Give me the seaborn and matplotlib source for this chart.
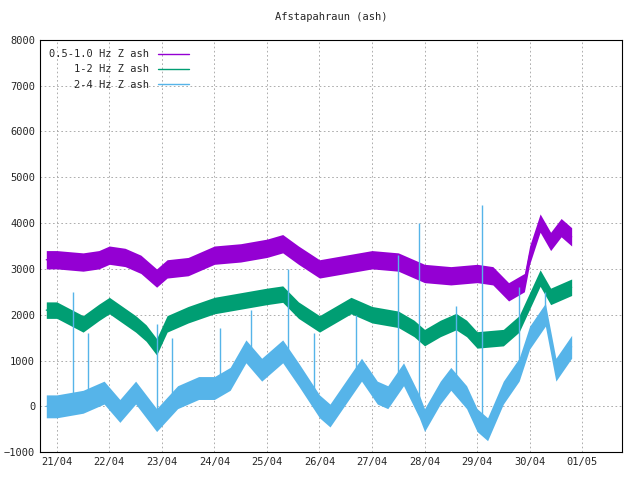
import numpy as np
import pandas as pd
import matplotlib
matplotlib.use("Agg")
import matplotlib.pyplot as plt
import matplotlib.dates as mdates
import seaborn as sns

# day-of-April positions (fractional) and values
purple_t = [20.8, 21.0, 21.5, 21.8, 22.0, 22.3, 22.6, 22.9, 23.1, 23.5, 24.0, 24.5, 25.0, 25.3, 25.6,
            26.0, 26.5, 27.0, 27.5, 28.0, 28.5, 29.0, 29.3, 29.6, 29.9, 30.0, 30.2, 30.4, 30.6, 30.8]
purple_v = [3200, 3200, 3150, 3200, 3300, 3250, 3100, 2800, 3000, 3050, 3300, 3350, 3450, 3550, 3300,
            3000, 3100, 3200, 3150, 2900, 2850, 2900, 2850, 2500, 2700, 3300, 4000, 3600, 3900, 3700]
purple_band = 200

green_t = [20.8, 21.0, 21.5, 21.8, 22.0, 22.5, 22.7, 22.9, 23.1, 23.5, 24.0, 24.5, 25.0, 25.3, 25.6,
           26.0, 26.3, 26.6, 27.0, 27.5, 27.8, 28.0, 28.3, 28.6, 28.8, 29.0, 29.5, 29.8, 30.0, 30.2,
           30.4, 30.8]
green_v = [2100, 2100, 1800, 2050, 2200, 1800, 1600, 1300, 1800, 2000, 2200, 2300, 2400, 2450, 2100,
           1800, 2000, 2200, 2000, 1900, 1700, 1500, 1700, 1850, 1700, 1450, 1500, 1800, 2300, 2800,
           2400, 2600]
green_band = 180

blue_t = [20.8, 21.0, 21.5, 21.9, 22.2, 22.5, 22.9, 23.3, 23.7, 24.0, 24.3, 24.6, 24.9, 25.3, 25.6,
          26.0, 26.2, 26.5, 26.8, 27.1, 27.3, 27.6, 27.9, 28.0, 28.3, 28.5, 28.8, 29.0, 29.2, 29.5,
          29.8, 30.0, 30.3, 30.5, 30.8]
blue_v = [0, 0, 100, 300, -100, 300, -300, 200, 400, 400, 600, 1200, 800, 1200, 700,
          0, -200, 300, 800, 300, 200, 700, 0, -300, 300, 600, 200, -300, -500, 300,
          800, 1500, 2000, 800, 1300]
blue_band = 250
spike_t = [21.3, 21.6, 22.9, 23.2, 24.1, 24.7, 25.4, 25.9, 26.7, 27.5, 27.9, 28.6, 29.1, 29.8, 30.3]
spike_v = [2500, 1600, 1800, 1500, 1700, 2100, 3000, 1600, 2000, 3300, 4000, 2200, 4400, 2600, 2500]

labels = ["0.5-1.0 Hz Z ash", "1-2 Hz Z ash", "2-4 Hz Z ash"]
colors = ["#9400d3", "#009e73", "#56b4e9"]

def to_date(t):
    return pd.Timestamp("2025-04-01") + pd.to_timedelta(np.array(t) - 1, unit="D")

sns.set_style("white")
plt.rcParams["font.family"] = ["DejaVu Sans Mono"]
fig, ax = plt.subplots(figsize=(6.4, 4.8), dpi=100)
fig.subplots_adjust(left=0.0625, right=0.972, top=0.917, bottom=0.058)

for t, v, b, lab, c in [(purple_t, purple_v, purple_band, labels[0], colors[0]),
                        (green_t, green_v, green_band, labels[1], colors[1]),
                        (blue_t, blue_v, blue_band, labels[2], colors[2])]:
    d = to_date(t)
    v = np.array(v)
    ax.fill_between(d, v - b, v + b, color=c, lw=0)
    sns.lineplot(x=d, y=v, ax=ax, color=c, lw=1, label=lab)

st = to_date(spike_t)
ax.vlines(st, np.interp(spike_t, blue_t, blue_v), spike_v, color=colors[2], lw=1)

ax.set_xlim(to_date([20.68])[0], to_date([31.76])[0])
ax.set_ylim(-1000, 8000)
ax.set_yticks(range(-1000, 8001, 1000))
ax.xaxis.set_major_locator(mdates.DayLocator())
ax.xaxis.set_major_formatter(mdates.DateFormatter("%d/%m"))
ax.grid(True, color="#a0a0a0", ls=(0, (2, 3)), lw=0.6)
for s in ax.spines.values():
    s.set_color("black"); s.set_linewidth(0.8)
ax.tick_params(labelsize=7.5, direction="in", length=4)
ax.set_xlabel(""); ax.set_ylabel("")
ax.set_title("Afstapahraun (ash)", fontsize=7.5, pad=14)
ax.legend(loc="upper left", fontsize=7.5, frameon=False, handlelength=3, markerfirst=False)
fig.savefig("out.png", dpi=100)
